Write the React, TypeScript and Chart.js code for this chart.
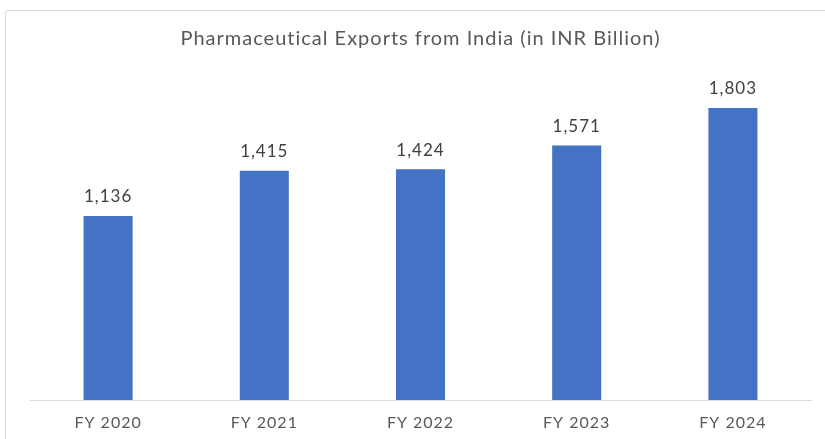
import React, { useEffect, useRef } from "react";
import { Chart, registerables } from "chart.js";

Chart.register(...registerables);

const categories = ["FY 2020", "FY 2021", "FY 2022", "FY 2023", "FY 2024"];
const exportsValues = [1136, 1415, 1424, 1571, 1803];
const titleText = "Pharmaceutical Exports from India (in INR Billion)";

const FONT = "Lato, 'Open Sans', sans-serif";

const spacingPlugin = {
  id: "spacing",
  beforeDraw(chart: any) {
    (chart.ctx as any).letterSpacing = "1px";
  },
};

const dataLabelPlugin = {
  id: "dataLabels",
  afterDatasetsDraw(chart: any) {
    const ctx = chart.ctx;
    const meta = chart.getDatasetMeta(0);
    ctx.save();
    (ctx as any).letterSpacing = "1px";
    ctx.font = `17px ${FONT}`;
    ctx.fillStyle = "#404040";
    ctx.textAlign = "center";
    ctx.textBaseline = "middle";
    meta.data.forEach((bar: any, i: number) => {
      const v = chart.data.datasets[0].data[i] as number;
      ctx.fillText(v.toLocaleString("en-US"), bar.x, bar.y - 19);
    });
    ctx.restore();
  },
};

export default function App() {
  const canvasRef = useRef<HTMLCanvasElement | null>(null);

  useEffect(() => {
    if (!canvasRef.current) return;
    const chart = new Chart(canvasRef.current, {
      type: "bar",
      data: {
        labels: categories,
        datasets: [
          {
            data: exportsValues,
            backgroundColor: "#4472C4",
            borderWidth: 0,
            categoryPercentage: 1,
            barPercentage: 0.314,
          },
        ],
      },
      options: {
        animation: false,
        responsive: false,
        maintainAspectRatio: false,
        layout: { padding: { left: 30, right: 14, top: 27, bottom: 0 } },
        plugins: {
          legend: { display: false },
          tooltip: { enabled: false },
          title: {
            display: true,
            text: titleText,
            color: "#595959",
            font: { family: FONT, size: 20, weight: "normal" },
            padding: { top: 0, bottom: 25 },
          },
        },
        scales: {
          y: { display: false, min: 0, max: 2000 },
          x: {
            grid: { display: false, drawTicks: false },
            border: { display: true, color: "#d9d9d9", width: 1 },
            ticks: {
              color: "#595959",
              font: { family: FONT, size: 16 },
              padding: 13,
            },
            afterFit: (scale: any) => {
              scale.height = 39;
            },
          },
        },
      },
      plugins: [spacingPlugin, dataLabelPlugin],
    });
    return () => chart.destroy();
  }, []);

  return (
    <div
      style={{
        position: "fixed",
        left: 0,
        top: 0,
        width: 825,
        height: 439,
        overflow: "hidden",
        background: "#ffffff",
      }}
    >
      <div
        style={{
          position: "absolute",
          left: 5,
          top: 10,
          width: 850,
          height: 460,
          border: "1px solid #d9d9d9",
          borderRadius: 3,
          boxSizing: "border-box",
        }}
      />
      <canvas
        ref={canvasRef}
        width={825}
        height={439}
        style={{ position: "absolute", left: 0, top: 0, width: 825, height: 439 }}
      />
    </div>
  );
}
